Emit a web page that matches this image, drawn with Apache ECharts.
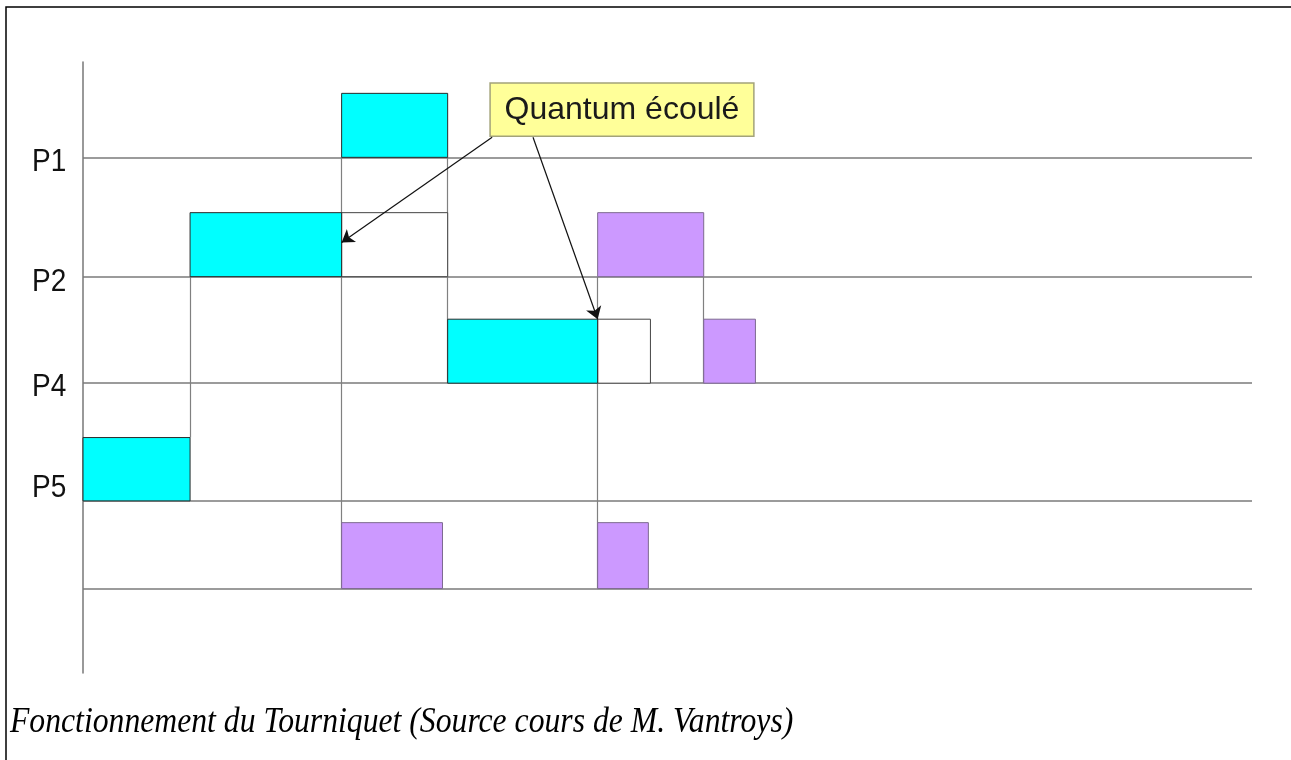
<!DOCTYPE html>
<html><head><meta charset="utf-8">
<script src="https://cdn.jsdelivr.net/npm/echarts@6/dist/echarts.min.js"></script>
<style>html,body{margin:0;padding:0;background:#fff}#c{width:1291px;height:760px}</style>
</head><body><div id="c"></div>
<script>
// ---- data (time in quantum units, levels in row units) ----
const rowNames = ['P1', 'P2', 'P4', 'P5', ''];
const rowBase = [8.06, 6.195, 4.53, 2.69, 1.32];
const rowHeight = [1, 1, 1, 0.99, 1.03];
const timeMax = 22.6;
const levelMax = 9.55;

// blocks: [start, end, rowIndex]
const cyanBlocks = [[0, 2.07, 3], [2.07, 5, 1], [5, 7.05, 0], [7.05, 9.95, 2]];
const emptyBlocks = [[5, 7.05, 1], [9.95, 10.97, 2]];
const purpleBlocks = [[9.95, 12, 1], [12, 13, 2], [5, 6.95, 4], [9.95, 10.93, 4]];

// context-switch connectors: [time, fromLevel, toLevel]
const connectors = [[2.07, 3.68, 6.195], [5, 1.32, 8.06], [7.05, 4.53, 8.06], [9.95, 1.32, 6.195], [12, 4.53, 6.195]];

// callout
const calloutText = 'Quantum écoulé';
const calloutBox = [7.87, 8.39, 12.97, 9.22]; // x0, y0, x1, y1
const calloutArrows = [[[7.91, 8.375], [5.0, 6.73]], [[8.70, 8.375], [9.95, 5.53]]];

const captionText = 'Fonctionnement du Tourniquet (Source cours de M. Vantroys)';

// ---- styles ----
const labelOffsets = { P1: 5, P2: 5, P4: 4, P5: -13 };
const CYAN = '#00FFFF', PURPLE = '#CC99FF';

function blockItem(kind) {
  return function (params, api) {
    const s = api.value(0), e = api.value(1), r = api.value(2);
    const p0 = api.coord([s, rowBase[r] + rowHeight[r]]);
    const p1 = api.coord([e, rowBase[r]]);
    let fill = '#fff', stroke = '#333', lw = 1;
    if (kind === 'cyan') { fill = CYAN; stroke = '#2a2a2a'; }
    if (kind === 'purple') { fill = PURPLE; stroke = '#7d6a90'; }
    if (kind === 'empty') { fill = '#fff'; stroke = '#444'; }
    return {
      type: 'rect',
      shape: { x: p0[0], y: p0[1], width: p1[0] - p0[0], height: p1[1] - p0[1] },
      style: { fill: fill, stroke: stroke, lineWidth: lw }
    };
  };
}

const hLines = rowBase.map(b => ({ coords: [[0, b], [timeMax, b]] }));
const vLines = connectors.map(c => ({ coords: [[c[0], c[1]], [c[0], c[2]]] }));

const chart = echarts.init(document.getElementById('c'), null, { renderer: 'canvas' });
chart.setOption({
  animation: false,
  backgroundColor: '#fff',
  grid: { left: 83, top: 62, width: 1169, bottom: 87 },
  xAxis: { type: 'value', min: 0, max: timeMax, show: false },
  yAxis: {
    type: 'value', min: 0, max: levelMax,
    axisLine: { show: true, lineStyle: { color: '#777', width: 1.5 } },
    axisTick: { show: false }, axisLabel: { show: false }, splitLine: { show: false }
  },
  graphic: [
    { type: 'rect', shape: { x: 6, y: 7, width: 1400, height: 900 }, style: { fill: 'none', stroke: '#000', lineWidth: 1.5 }, silent: true },
    { type: 'text', x: 10, y: 722, scaleY: 1.15, style: { text: captionText, x: 0, y: 0, verticalAlign: 'middle', align: 'left', font: 'italic 31.7px "Liberation Serif"', fill: '#000' } }
  ],
  series: [
    {
      type: 'lines', coordinateSystem: 'cartesian2d', z: 1,
      lineStyle: { color: '#7a7a7a', width: 1.5, opacity: 1 },
      symbol: 'none', data: hLines
    },
    {
      type: 'lines', coordinateSystem: 'cartesian2d', z: 2,
      lineStyle: { color: '#808080', width: 1.2, opacity: 1 },
      symbol: 'none', data: vLines
    },
    { type: 'custom', z: 3, renderItem: blockItem('empty'), data: emptyBlocks },
    { type: 'custom', z: 3, renderItem: blockItem('cyan'), data: cyanBlocks },
    { type: 'custom', z: 3, renderItem: blockItem('purple'), data: purpleBlocks },
    {
      type: 'custom', z: 4, clip: false,
      data: rowNames.map((n, i) => [i]),
      renderItem: function (params, api) {
        const i = api.value(0);
        const name = rowNames[i];
        if (!name) return null;
        const p = api.coord([0, rowBase[i]]);
        return {
          type: 'text', x: p[0] - 51, y: p[1] + labelOffsets[name], scaleY: 1.15,
          style: { text: name, x: 0, y: 0, fill: '#111', font: '28px "Liberation Sans"', align: 'left', verticalAlign: 'middle' }
        };
      }
    },
    {
      type: 'custom', z: 5, clip: false,
      data: [calloutBox],
      renderItem: function (params, api) {
        const a = api.coord([api.value(0), api.value(3)]);
        const b = api.coord([api.value(2), api.value(1)]);
        return {
          type: 'group',
          children: [
            { type: 'rect', shape: { x: a[0], y: a[1], width: b[0] - a[0], height: b[1] - a[1] }, style: { fill: '#FFFF99', stroke: '#a3a37a', lineWidth: 1.5 } },
            { type: 'text', style: { text: calloutText, x: (a[0] + b[0]) / 2, y: (a[1] + b[1]) / 2 + 1, align: 'center', verticalAlign: 'middle', font: '32px "Liberation Sans"', fill: '#1a1a1a' } }
          ]
        };
      }
    },
    {
      type: 'lines', coordinateSystem: 'cartesian2d', z: 6,
      lineStyle: { color: '#111', width: 1.2, opacity: 1 },
      symbol: ['none', 'arrow'], symbolSize: [9, 12],
      data: calloutArrows.map(c => ({ coords: c }))
    }
  ]
});
</script></body></html>
